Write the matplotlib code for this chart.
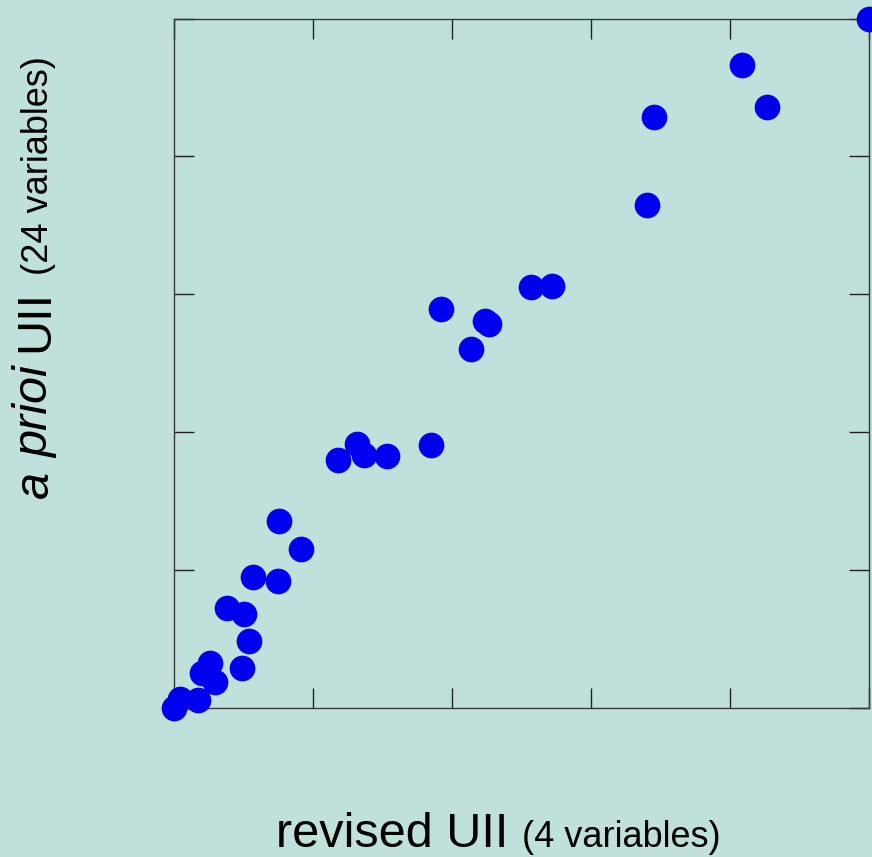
import matplotlib
matplotlib.use('Agg')
import matplotlib.pyplot as plt
import numpy as np
from matplotlib.transforms import IdentityTransform

plt.rcParams['font.family'] = ['Liberation Sans', 'DejaVu Sans']

# UII scores: revised index (4 variables) vs a priori index (24 variables)
revised_uii = [0.000, 0.009, 0.035, 0.041, 0.053, 0.060, 0.099, 0.109,
               0.077, 0.101, 0.115, 0.151, 0.152, 0.184, 0.236, 0.264,
               0.274, 0.307, 0.371, 0.385, 0.428, 0.448, 0.454, 0.515,
               0.545, 0.682, 0.692, 0.818, 0.854, 1.000]
apriori_uii = [0.000, 0.013, 0.011, 0.050, 0.064, 0.037, 0.058, 0.096,
               0.145, 0.135, 0.190, 0.184, 0.270, 0.230, 0.359, 0.382,
               0.366, 0.365, 0.381, 0.579, 0.520, 0.561, 0.557, 0.611,
               0.612, 0.730, 0.857, 0.933, 0.872, 1.000]
tick_pos = np.linspace(0, 1, 6)

bg = '#bfe0db'
W, H = 872, 857

fig = plt.figure(figsize=(W / 100, H / 100), dpi=100, facecolor=bg)
ax = fig.add_axes([173.5 / W, 149.5 / H, 695 / W, 689 / H], facecolor=bg)

ax.plot(revised_uii, apriori_uii, 'o', color='#0000f0', markersize=18.5,
        markeredgewidth=0, clip_on=False, zorder=3)

ax.set_xlim(0, 1)
ax.set_ylim(0, 1)
ax.set_xticks(tick_pos)
ax.set_yticks(tick_pos)
ax.tick_params(direction='in', length=14.5, width=1, colors='#222222',
               top=True, right=True, labelbottom=False, labelleft=False)
for sp in ax.spines.values():
    sp.set_linewidth(1)
    sp.set_color('#3a3a3a')


def text_run(x, y, pieces, rotation=0):
    # lay out differently styled pieces one after another, in pixels
    renderer = fig.canvas.get_renderer()
    pos = 0
    for s, gap, kw in pieces:
        pos += gap
        if rotation == 0:
            t = fig.text(x + pos, y, s, ha='left', va='baseline',
                         transform=IdentityTransform(), **kw)
            pos += t.get_window_extent(renderer).width
        else:
            t = fig.text(x, y + pos, s, ha='left', va='baseline',
                         rotation=90, rotation_mode='anchor',
                         transform=IdentityTransform(), **kw)
            pos += t.get_window_extent(renderer).height


text_run(276, H - 847, [
    ('revised UII', 0, dict(fontsize=35)),
    ('(4 variables)', 14, dict(fontsize=26)),
])
text_run(48, H - 498, [
    ('a', 0, dict(fontsize=35, style='italic')),
    ('prioi', 13, dict(fontsize=35, style='italic')),
    ('UII', 14, dict(fontsize=35)),
    ('(24 variables)', 15, dict(fontsize=26)),
], rotation=90)

fig.savefig('out.png', dpi=100, facecolor=bg)
